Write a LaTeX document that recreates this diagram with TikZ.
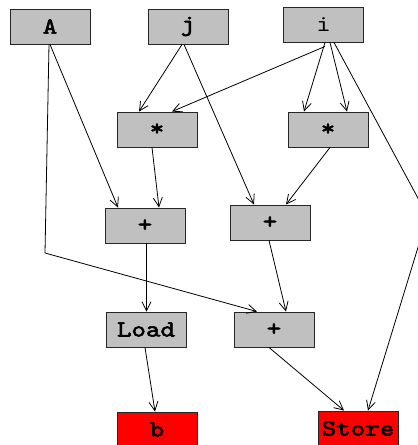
\documentclass[tikz,border=0pt]{standalone}
\usepackage{fontspec}
\newfontfamily\courb{lmmono10-regular.otf}[FakeBold=2.5,FakeStretch=1.2]
\newfontfamily\courr{lmmono10-regular.otf}[FakeStretch=1.2]
\usetikzlibrary{arrows.meta,calc}
\begin{document}
\begin{tikzpicture}[x=1pt,y=-1pt,
  opbox/.style={draw=black!85,line width=0.9pt,fill={rgb,255:red,192;green,192;blue,192},minimum width=80pt,minimum height=35pt,inner sep=0pt,font=\fontsize{23}{23}\courb},
  redbox/.style={opbox,fill=red},
  edge/.style={line width=0.8pt,-{Straight Barb[length=9pt,width=9pt,line width=0.8pt]}},
  plain/.style={line width=0.8pt}]
\useasboundingbox (0,0) rectangle (418,445);
\node[opbox] (A) at (50,26.5) {A};
\node[opbox] (j) at (188,26.5) {j};
\node[opbox,font=\fontsize{23}{23}\courr] (i) at (323.5,24.5) {i};
\node[opbox] (m1) at (157,129.5) {*};
\node[opbox] (m2) at (328,129.5) {*};
\node[opbox] (p1) at (145,225.5) {+};
\node[opbox] (p2) at (270,222.5) {+};
\node[opbox] (load) at (146,329.5) {Load};
\node[opbox] (p3) at (274,329.5) {+};
\node[redbox] (b) at (157,429.5) {b};
\node[redbox] (store) at (358,428.5) {Store};
\coordinate (bendA) at (45,253);
\coordinate (bendI) at (427.6,216);
% edges
\draw[edge] (A.south) -- ([xshift=-27pt]p1.north);
\draw[edge] ([xshift=-1pt]A.south) -- (bendA) -- ([xshift=-17pt]p3.north);
\draw[edge] ([xshift=-6pt]j.south) -- ([xshift=-18pt]m1.north);
\draw[edge] ([xshift=-4pt]j.south) -- ([xshift=-16pt]p2.north);
\draw[edge] ([xshift=1.5pt,yshift=-4pt]i.south) -- ([xshift=15pt]m1.north);
\draw[edge] ([xshift=1.5pt]i.south) -- ([xshift=-24pt]m2.north);
\draw[edge] ([xshift=6.5pt]i.south) -- ([xshift=19pt]m2.north);
\draw[edge] ([xshift=10.5pt]i.south) -- (bendI) -- ([xshift=10pt]store.north);
\draw[edge] ([xshift=-5pt]m1.south) -- ([xshift=14pt]p1.north);
\draw[edge] ([xshift=2pt]m2.south) -- ([xshift=16pt]p2.north);
\draw[edge] ([xshift=1.5pt]p1.south) -- ([xshift=0.5pt]load.north);
\draw[edge] ([xshift=-1pt]p2.south) -- ([xshift=12pt]p3.north);
\draw[edge] ([xshift=-1pt]load.south) -- ([xshift=-2pt]b.north);
\draw[edge] ([xshift=-5pt]p3.south) -- ([xshift=-14pt]store.north);
\end{tikzpicture}
\end{document}
